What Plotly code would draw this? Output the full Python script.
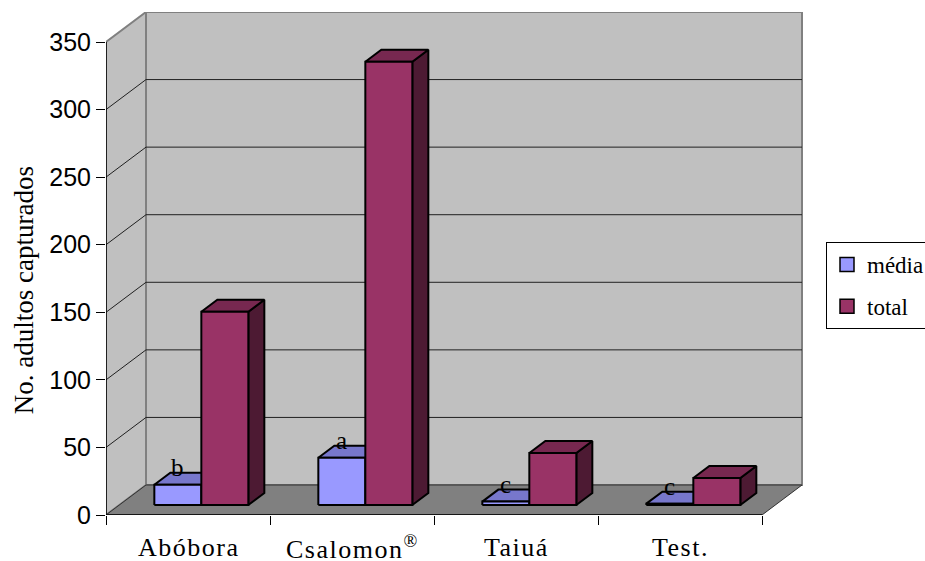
import plotly.graph_objects as go

# ---------------- data ----------------
categories = ["Abóbora", "Csalomon<sup>®</sup>", "Taiuá", "Test."]
media = [15, 35, 2.5, 1]
total = [143, 328, 38.5, 20]
letters = ["b", "a", "c", "c"]
series_names = ["média", "total"]
y_ticks = [0, 50, 100, 150, 200, 250, 300, 350]

# ---------------- geometry / style ----------------
PX_CAT = 164.0             # px per category
PX_VAL = 473.0 / 350.0     # px per value unit
DX = 40.0 / PX_CAT         # full depth shift (x, in category units)
DY = 30.0 / PX_VAL         # full depth shift (y, in value units)
T0, T1 = 1.0 / 3.0, 1.0 / 3.0 + 0.4   # bar front / back depth
W = 47.0 / PX_CAT          # bar width
YMAX = 350
Y_TOP = 503.0 / PX_VAL

def P(x, v, t):
    return x + t * DX, v + t * DY

def faces(x0, x1, h):
    front = [P(x0, 0, T0), P(x1, 0, T0), P(x1, h, T0), P(x0, h, T0)]
    top = [P(x0, h, T0), P(x1, h, T0), P(x1, h, T1), P(x0, h, T1)]
    side = [P(x1, 0, T0), P(x1, 0, T1), P(x1, h, T1), P(x1, h, T0)]
    return front, top, side

def poly_trace(polys, color, lw=2):
    xs, ys = [], []
    for poly in polys:
        for (x, y) in poly:
            xs.append(x); ys.append(y)
        xs.append(poly[0][0]); ys.append(poly[0][1])
        xs.append(None); ys.append(None)
    return go.Scatter(x=xs, y=ys, mode="lines", fill="toself", fillcolor=color,
                      line=dict(color="black", width=lw), showlegend=False,
                      hoverinfo="skip")

colors = {
    "média": dict(front="#9999FF", top="#7777CC", side="#4D4D80"),
    "total": dict(front="#993366", top="#772850", side="#4D1A33"),
}

fig = go.Figure()

# bars
for name, vals, sign in [("média", media, -1), ("total", total, +1)]:
    F, Tp, S = [], [], []
    for i, v in enumerate(vals):
        x0, x1 = (i - W, i) if sign < 0 else (i, i + W)
        f, t, s = faces(x0, x1, v)
        F.append(f); Tp.append(t); S.append(s)
    c = colors[name]
    fig.add_trace(poly_trace(S, c["side"]))
    fig.add_trace(poly_trace(Tp, c["top"]))
    fig.add_trace(poly_trace(F, c["front"]))

# legend entries
for gi, name in enumerate(series_names):
    fig.add_trace(go.Scatter(x=[None], y=[None], mode="markers", name=name,
                             legendgroup=name,
                             marker=dict(symbol="square", size=14,
                                         color=colors[name]["front"],
                                         line=dict(color="black", width=1.5))))

shapes = []
def path_of(pts):
    return "M " + " L ".join(f"{x},{y}" for x, y in pts) + " Z"

# walls and floor
xl, xr = -0.5, len(categories) - 0.5
floor = [P(xl, 0, 0), P(xr, 0, 0), P(xr, 0, 1), P(xl, 0, 1)]
side_wall = [P(xl, 0, 0), P(xl, YMAX, 0), P(xl, YMAX, 1), P(xl, 0, 1)]
back_wall = [P(xl, 0, 1), P(xr, 0, 1), P(xr, YMAX, 1), P(xl, YMAX, 1)]
shapes.append(dict(type="path", path=path_of(side_wall), fillcolor="#C0C0C0",
                   line=dict(color="#808080", width=2), layer="below"))
shapes.append(dict(type="path", path=path_of(back_wall), fillcolor="#C0C0C0",
                   line=dict(color="#808080", width=2), layer="below"))
for v in y_ticks[1:-1]:
    a, b = P(xl, v, 0), P(xl, v, 1)
    c_ = P(xr, v, 1)
    shapes.append(dict(type="path", path=f"M {a[0]},{a[1]} L {b[0]},{b[1]} L {c_[0]},{c_[1]}",
                       line=dict(color="#202020", width=1), layer="below"))
shapes.append(dict(type="path", path=path_of(floor), fillcolor="#808080",
                   line=dict(color="#303030", width=1), layer="below"))
# front axis lines
shapes.append(dict(type="line", x0=xl, y0=0, x1=xl, y1=YMAX,
                   line=dict(color="black", width=1.5)))
shapes.append(dict(type="line", x0=xl, y0=0, x1=xr, y1=0,
                   line=dict(color="black", width=1.5)))

annotations = []
for i, lab in enumerate(categories):
    annotations.append(dict(x=i, y=0, xref="x", yref="y",
                            text=f'<span style="letter-spacing:1.5px">{lab}</span>',
                            showarrow=False, yanchor="middle", xanchor="center", yshift=-32,
                            font=dict(family="Liberation Serif", size=26, color="black")))
for i, (lt, v) in enumerate(zip(letters, media)):
    px_, py_ = P(i - W / 2, v, T0)
    annotations.append(dict(x=px_, y=py_, xref="x", yref="y", text=lt, showarrow=False,
                            yanchor="bottom", xanchor="center", yshift=2,
                            font=dict(family="Liberation Serif", size=25, color="black")))
annotations.append(dict(x=-0.1176, y=0.447, xref="paper", yref="paper",
                        text="No. adultos capturados", textangle=-90, showarrow=False,
                        xanchor="center", yanchor="middle",
                        font=dict(family="Liberation Serif", size=27, color="black")))

fig.update_layout(
    width=925, height=561,
    margin=dict(l=106, r=122, t=12, b=46, autoexpand=False),
    paper_bgcolor="white", plot_bgcolor="white",
    shapes=shapes, annotations=annotations,
    xaxis=dict(range=[xl, xr + 0.25], tickvals=[xl + k for k in range(len(categories) + 1)],
               showticklabels=False, ticks="outside", ticklen=9,
               tickcolor="black", tickwidth=1, showgrid=False, zeroline=False,
               showline=False, fixedrange=True),
    yaxis=dict(range=[0, Y_TOP], tickvals=y_ticks, ticks="outside", ticklen=9,
               tickcolor="black", tickwidth=1, showgrid=False, zeroline=False,
               showline=False, tickfont=dict(family="Liberation Sans", size=25, color="black")),
    legend=dict(x=(826 - 106) / 697, y=(515 - 242) / 503, xanchor="left", yanchor="top",
                xref="paper", yref="paper", bgcolor="white", bordercolor="black",
                borderwidth=1, traceorder="grouped", tracegroupgap=9,
                font=dict(family="Liberation Serif", size=23, color="black")),
    showlegend=True,
)

fig.write_html("out.html")
